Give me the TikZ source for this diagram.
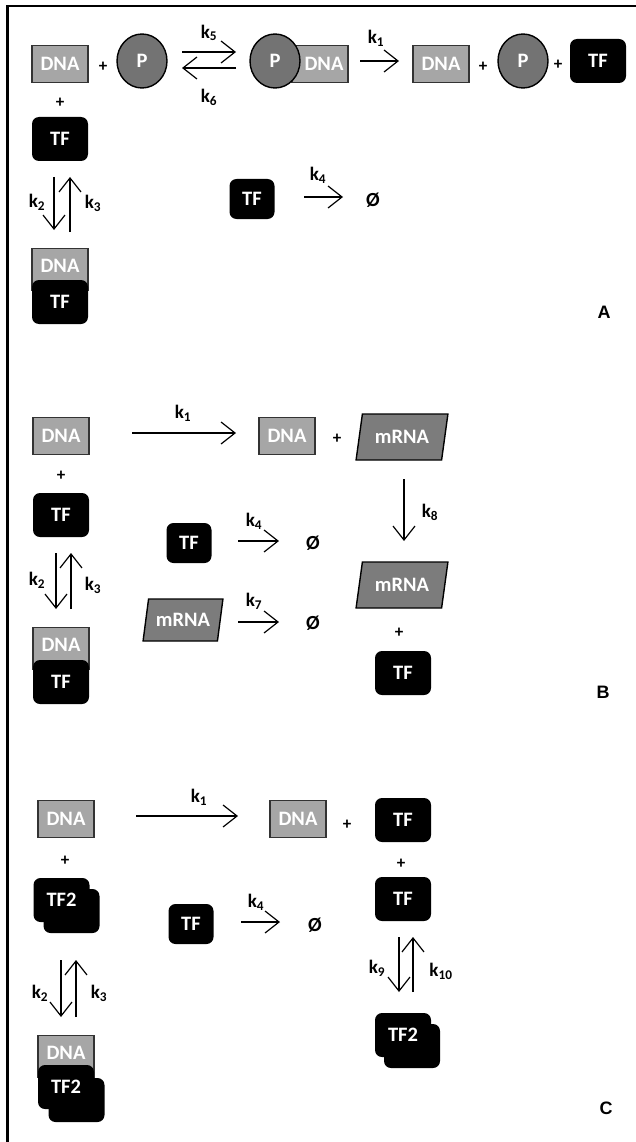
\documentclass[tikz,border=0pt]{standalone}
\usepackage{fontspec}
\setmainfont{Carlito}
\newfontfamily\labfont{Liberation Sans}
\usetikzlibrary{arrows.meta,shapes.geometric}
\definecolor{dnagray}{HTML}{A6A6A6}
\definecolor{pgray}{HTML}{737373}
\definecolor{mgray}{HTML}{7C7C7C}
\definecolor{dnaedge}{HTML}{333333}
\tikzset{
 base/.style={font=\fontsize{20.5}{22}\selectfont\bfseries, text=white, inner sep=0pt},
 dnabox/.style={base, draw=dnaedge, fill=dnagray, line width=1.4pt, minimum width=56pt, minimum height=37pt},
 dnatall/.style={dnabox, minimum height=42pt},
 tfbox/.style={base, fill=black, rounded corners=7pt, minimum width=56pt, minimum height=44pt},
 tfsmall/.style={tfbox, minimum width=45pt, minimum height=40pt},
 pcircle/.style={base, ellipse, draw=black, fill=pgray, line width=1.4pt, minimum width=50pt, minimum height=54pt},
 mrna/.style={base, trapezium, trapezium left angle=72, trapezium right angle=108, trapezium stretches=true, draw=black, fill=mgray, line width=1.4pt, minimum width=92pt, minimum height=46pt},
 mrnasmall/.style={mrna, minimum width=80pt, minimum height=42pt},
 plus/.style={font=\fontsize{17}{17}\selectfont\bfseries, inner sep=0pt},
 klab/.style={font=\fontsize{19}{19}\selectfont\bfseries, inner sep=0pt},
 nul/.style={font=\fontsize{20}{20}\selectfont\bfseries, inner sep=0pt},
 panel/.style={font=\labfont\fontsize{18}{18}\selectfont\bfseries, inner sep=0pt},
 rx/.style={line width=1.2pt, -{Straight Barb[length=14pt,width=22pt,line width=1.2pt]}}
}
\begin{document}
\begin{tikzpicture}[x=1pt,y=-1pt]
\useasboundingbox (0,0) rectangle (636,1142);
% frame
\draw[line width=2.2pt] (7.5,1142) -- (7.5,6) -- (636,6);

%%%%%%%%%%%%%%%% Panel A
\node[dnabox] (a_dna1) at (60,64) {DNA};
\node[plus] (a_p1) at (103,67) {+};
\node[pcircle] (a_P1) at (142,61) {P};
\coordinate (a5s) at (182,52); \coordinate (a5e) at (236,52);
\draw[rx] (a5s) -- (a5e);
\node[klab] (a_k5) at (209,33) {k\textsubscript{5}};
\coordinate (a6s) at (236,68); \coordinate (a6e) at (182,68);
\draw[rx] (a6s) -- (a6e);
\node[klab] (a_k6) at (209,97) {k\textsubscript{6}};
\node[dnabox] (a_cdna) at (320,64) {\hspace*{8pt}DNA};
\node[pcircle] (a_cP) at (275,61) {P};
\coordinate (a1s) at (360,61); \coordinate (a1e) at (399,61);
\draw[rx] (a1s) -- (a1e);
\node[klab] (a_k1) at (376,38) {k\textsubscript{1}};
\node[dnabox] (a_dna2) at (441,64) {DNA};
\node[plus] (a_p2) at (483,67) {+};
\node[pcircle] (a_P2) at (523,61) {P};
\node[plus] (a_p3) at (558,65) {+};
\node[tfbox] (a_tf1) at (598,61) {TF};
\node[plus] (a_p4) at (60,103) {+};
\node[tfbox] (a_tf2) at (60,139) {TF};
\coordinate (a2s) at (54,177); \coordinate (a2e) at (54,230);
\draw[rx] (a2s) -- (a2e);
\coordinate (a3s) at (70,232); \coordinate (a3e) at (70,177);
\draw[rx] (a3s) -- (a3e);
\node[klab] (a_k2) at (37,202) {k\textsubscript{2}};
\node[klab] (a_k3) at (93,203) {k\textsubscript{3}};
\node[dnatall,anchor=north] (a_xdna) at (60,248) {};
\node[base] (a_xdnat) at (60,266) {DNA};
\node[tfbox] (a_xtf) at (60,302) {TF};
\node[tfsmall] (a_tf3) at (252,199) {TF};
\coordinate (a4s) at (304,197); \coordinate (a4e) at (343,197);
\draw[rx] (a4s) -- (a4e);
\node[klab] (a_k4) at (318,175) {k\textsubscript{4}};
\node[nul] (a_null) at (373,200) {Ø};
\node[panel] (a_lab) at (604,312) {A};

%%%%%%%%%%%%%%%% Panel B
\node[dnabox] (b_dna1) at (61,436) {DNA};
\coordinate (b1s) at (132,433); \coordinate (b1e) at (236,433);
\draw[rx] (b1s) -- (b1e);
\node[klab] (b_k1) at (183,413) {k\textsubscript{1}};
\node[dnabox] (b_dna2) at (287,436) {DNA};
\node[plus] (b_p1) at (337,439) {+};
\node[mrna] (b_m1) at (402,437) {mRNA};
\node[plus] (b_p2) at (61,476) {+};
\node[tfbox] (b_tf1) at (61,515) {TF};
\coordinate (b2s) at (56,553); \coordinate (b2e) at (56,609);
\draw[rx] (b2s) -- (b2e);
\coordinate (b3s) at (71,609); \coordinate (b3e) at (71,553);
\draw[rx] (b3s) -- (b3e);
\node[klab] (b_k2) at (37,580) {k\textsubscript{2}};
\node[klab] (b_k3) at (93,585) {k\textsubscript{3}};
\node[dnatall,anchor=north] (b_xdna) at (61,627) {};
\node[base] (b_xdnat) at (61,645) {DNA};
\node[tfbox] (b_xtf) at (61,682) {TF};
\node[tfsmall] (b_tf2) at (189,543) {TF};
\coordinate (b4s) at (238,541); \coordinate (b4e) at (279,541);
\draw[rx] (b4s) -- (b4e);
\node[klab] (b_k4) at (254,521) {k\textsubscript{4}};
\node[nul] (b_null1) at (313,543) {Ø};
\node[mrnasmall] (b_m2) at (183,620) {mRNA};
\coordinate (b7s) at (238,622); \coordinate (b7e) at (279,622);
\draw[rx] (b7s) -- (b7e);
\node[klab] (b_k7) at (254,601) {k\textsubscript{7}};
\node[nul] (b_null2) at (313,623) {Ø};
\coordinate (b8s) at (404,479); \coordinate (b8e) at (404,541);
\draw[rx] (b8s) -- (b8e);
\node[klab] (b_k8) at (430,512) {k\textsubscript{8}};
\node[mrna] (b_m3) at (402,585) {mRNA};
\node[plus] (b_p3) at (399,633) {+};
\node[tfbox] (b_tf3) at (403,673) {TF};
\node[panel] (b_lab) at (603,692) {B};

%%%%%%%%%%%%%%%% Panel C
\node[dnabox] (c_dna1) at (66,819) {DNA};
\coordinate (c1s) at (136,816); \coordinate (c1e) at (238,816);
\draw[rx] (c1s) -- (c1e);
\node[klab] (c_k1) at (199,797) {k\textsubscript{1}};
\node[dnabox] (c_dna2) at (298,819) {DNA};
\node[plus] (c_p1) at (347,825) {+};
\node[tfbox] (c_tf1) at (403,820) {TF};
\node[plus] (c_p2) at (65,861) {+};
\node[tfbox] (c_tf2b) at (71.5,911) {};
\node[tfbox] (c_tf2) at (61.5,900) {TF2};
\coordinate (c2s) at (61,960); \coordinate (c2e) at (61,1017);
\draw[rx] (c2s) -- (c2e);
\coordinate (c3s) at (76,1017); \coordinate (c3e) at (76,960);
\draw[rx] (c3s) -- (c3e);
\node[klab] (c_k2) at (40,993) {k\textsubscript{2}};
\node[klab] (c_k3) at (99,993) {k\textsubscript{3}};
\node[dnatall,anchor=north] (c_xdna) at (66,1035) {};
\node[base] (c_xdnat) at (66,1053) {DNA};
\node[tfbox] (c_xtfb) at (76.5,1100) {};
\node[tfbox] (c_xtf) at (66,1087) {TF2};
\node[tfsmall] (c_tf3) at (191,924) {TF};
\coordinate (c4s) at (241,922); \coordinate (c4e) at (280,922);
\draw[rx] (c4s) -- (c4e);
\node[klab] (c_k4) at (256,902) {k\textsubscript{4}};
\node[nul] (c_null) at (315,925) {Ø};
\node[plus] (c_p3) at (401,864) {+};
\node[tfbox] (c_tf4) at (403,899) {TF};
\coordinate (c9s) at (399,937); \coordinate (c9e) at (399,992);
\draw[rx] (c9s) -- (c9e);
\coordinate (c10s) at (413,992); \coordinate (c10e) at (413,937);
\draw[rx] (c10s) -- (c10e);
\node[klab] (c_k9) at (377,968) {k\textsubscript{9}};
\node[klab] (c_k10) at (441,971) {k\textsubscript{10}};
\node[tfbox] (c_tf5b) at (412,1046) {};
\node[tfbox] (c_tf5) at (403,1035) {TF2};
\node[panel] (c_lab) at (606,1108) {C};
\end{tikzpicture}
\end{document}
